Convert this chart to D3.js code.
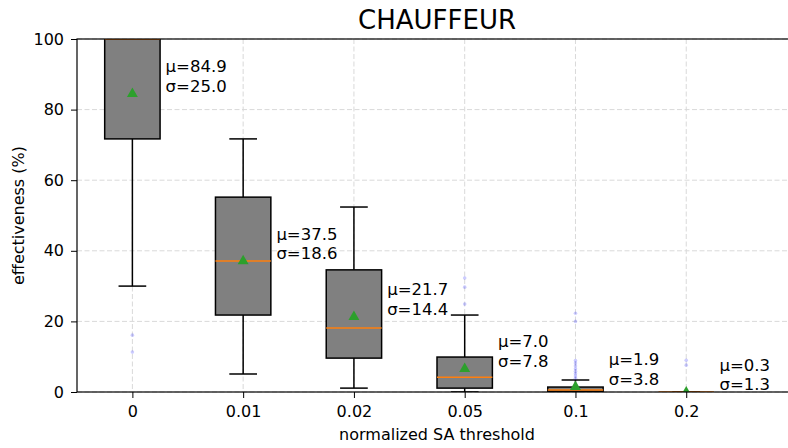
<!DOCTYPE html>
<html lang="en">
<head>
<meta charset="UTF-8">
<title>CHAUFFEUR</title>
<script src="https://cdn.jsdelivr.net/npm/d3@7"></script>
<style>
    body { margin: 0; background: #fff; }
    svg { font-family: "DejaVu Sans", sans-serif; }
</style>
</head>
<body>
<script>
    // values
    const categories = ["0", "0.01", "0.02", "0.05", "0.1", "0.2"];
    const q1 = [71.7, 21.8, 9.6, 1.1, 0.2, 0];
    const medians = [100, 37.1, 18.1, 4.2, 0.6, 0];
    const q3 = [100, 55.2, 34.6, 9.9, 1.4, 0];
    const whiskerLow = [30.0, 5.1, 1.1, 0, 0, 0];
    const whiskerHigh = [100, 71.7, 52.4, 21.8, 3.4, 0];
    const means = [84.9, 37.5, 21.7, 7.0, 1.9, 0.3];
    const stds = [25.0, 18.6, 14.4, 7.8, 3.8, 1.3];
    const outliers = [
        [16.1, 11.3],
        [],
        [],
        [32.3, 29.7, 24.9],
        [22.3, 20.0, 8.9, 8.2, 7.4, 6.6, 5.9, 5.2, 4.5, 3.9],
        [9.0, 7.6]
    ];
    const yTicks = [0, 20, 40, 60, 80, 100];

    let width = 788, height = 448;
    let mLeft = 77, mRight = 797, mTop = 39, mBottom = 392;

    let svg = d3.select("body").append("svg")
        .attr("width", width)
        .attr("height", height);

    // positions 1..n like matplotlib boxplot, xlim (0.5, 7)
    let x = d3.scaleLinear().domain([0.5, 7.0]).range([mLeft, mRight]);
    let y = d3.scaleLinear().domain([0, 100]).range([mBottom, mTop]);
    let pos = i => x(i + 1);
    let boxW = x(1.25) - x(1);   // half of the box width
    let capW = boxW / 2;

    svg.append("clipPath").attr("id", "clip")
        .append("rect")
        .attr("x", mLeft).attr("y", mTop)
        .attr("width", mRight - mLeft).attr("height", mBottom - mTop);

    // grid
    let grid = svg.append("g").attr("stroke", "#d9d9d9").attr("stroke-dasharray", "5,2.5").attr("stroke-width", 1);
    grid.selectAll("line.gy").data(yTicks).enter().append("line")
        .attr("x1", mLeft).attr("x2", mRight)
        .attr("y1", d => y(d)).attr("y2", d => y(d));
    grid.selectAll("line.gx").data(categories).enter().append("line")
        .attr("x1", (d, i) => pos(i)).attr("x2", (d, i) => pos(i))
        .attr("y1", mTop).attr("y2", mBottom);

    let plot = svg.append("g").attr("clip-path", "url(#clip)");

    let boxes = plot.selectAll("g.box").data(categories).enter().append("g");

    // whiskers
    boxes.append("line")
        .attr("x1", (d, i) => pos(i)).attr("x2", (d, i) => pos(i))
        .attr("y1", (d, i) => y(q1[i])).attr("y2", (d, i) => y(whiskerLow[i]))
        .attr("stroke", "#000").attr("stroke-width", 1.5);
    boxes.append("line")
        .attr("x1", (d, i) => pos(i)).attr("x2", (d, i) => pos(i))
        .attr("y1", (d, i) => y(q3[i])).attr("y2", (d, i) => y(whiskerHigh[i]))
        .attr("stroke", "#000").attr("stroke-width", 1.5);
    // caps
    boxes.append("line")
        .attr("x1", (d, i) => pos(i) - capW).attr("x2", (d, i) => pos(i) + capW)
        .attr("y1", (d, i) => y(whiskerLow[i])).attr("y2", (d, i) => y(whiskerLow[i]))
        .attr("stroke", "#000").attr("stroke-width", 1.5);
    boxes.append("line")
        .attr("x1", (d, i) => pos(i) - capW).attr("x2", (d, i) => pos(i) + capW)
        .attr("y1", (d, i) => y(whiskerHigh[i])).attr("y2", (d, i) => y(whiskerHigh[i]))
        .attr("stroke", "#000").attr("stroke-width", 1.5);

    // box
    boxes.append("rect")
        .attr("x", (d, i) => pos(i) - boxW)
        .attr("y", (d, i) => y(q3[i]))
        .attr("width", boxW * 2)
        .attr("height", (d, i) => y(q1[i]) - y(q3[i]))
        .attr("fill", "#808080")
        .attr("stroke", "#000").attr("stroke-width", 1.5);

    // median
    boxes.append("line")
        .attr("x1", (d, i) => pos(i) - boxW).attr("x2", (d, i) => pos(i) + boxW)
        .attr("y1", (d, i) => y(medians[i])).attr("y2", (d, i) => y(medians[i]))
        .attr("stroke", "#ff7f0e").attr("stroke-width", 1.5);

    // outliers, faint blue dots
    boxes.each(function (d, i) {
        d3.select(this).selectAll("circle").data(outliers[i]).enter().append("circle")
            .attr("cx", pos(i)).attr("cy", v => y(v)).attr("r", 1.8)
            .attr("fill", "#0000ff").attr("fill-opacity", 0.2);
    });

    // mean markers (shifted so the bounding box is centred like matplotlib '^')
    let tri = d3.symbol().type(d3.symbolTriangle).size(52);
    boxes.append("path")
        .attr("d", tri)
        .attr("transform", (d, i) => "translate(" + pos(i) + "," + (y(means[i]) + 1.5) + ")")
        .attr("fill", "#2ca02c");

    // mean / std annotations
    let notes = svg.append("g").attr("font-size", 16.5).attr("fill", "#000");
    categories.forEach(function (c, i) {
        let t = notes.append("text")
            .attr("x", x(i + 1.3))
            .attr("y", y(means[i]) - 20);
        t.append("tspan").attr("x", x(i + 1.3)).text("μ=" + means[i].toFixed(1));
        t.append("tspan").attr("x", x(i + 1.3)).attr("dy", 19.5).text("σ=" + stds[i].toFixed(1));
    });

    // axes
    let yAxis = d3.axisLeft(y).tickValues(yTicks).tickSize(6).tickPadding(7);
    let gy = svg.append("g").attr("transform", "translate(" + mLeft + ",0)").call(yAxis);
    let xAxis = d3.axisBottom(x).tickValues(categories.map((d, i) => i + 1))
        .tickFormat((d, i) => categories[i]).tickSize(6).tickPadding(7.5);
    let gx = svg.append("g").attr("transform", "translate(0," + mBottom + ")").call(xAxis);
    [gx, gy].forEach(function (g) {
        g.select(".domain").remove();
        g.selectAll(".tick line").attr("stroke", "#000").attr("stroke-width", 1);
        g.selectAll(".tick text").attr("font-size", 16).attr("font-family", "DejaVu Sans").attr("fill", "#000");
    });

    // spines
    svg.append("rect")
        .attr("x", mLeft).attr("y", mTop)
        .attr("width", mRight - mLeft).attr("height", mBottom - mTop)
        .attr("fill", "none").attr("stroke", "#000").attr("stroke-width", 1.2);

    // labels
    svg.append("text")
        .attr("x", (mLeft + mRight) / 2).attr("y", 29)
        .attr("text-anchor", "middle").attr("font-size", 26)
        .text("CHAUFFEUR");
    svg.append("text")
        .attr("x", (mLeft + mRight) / 2).attr("y", 440)
        .attr("text-anchor", "middle").attr("font-size", 16)
        .text("normalized SA threshold");
    svg.append("text")
        .attr("transform", "translate(24," + (mTop + mBottom) / 2 + ") rotate(-90)")
        .attr("text-anchor", "middle").attr("font-size", 16)
        .text("effectiveness (%)");
</script>
</body>
</html>
